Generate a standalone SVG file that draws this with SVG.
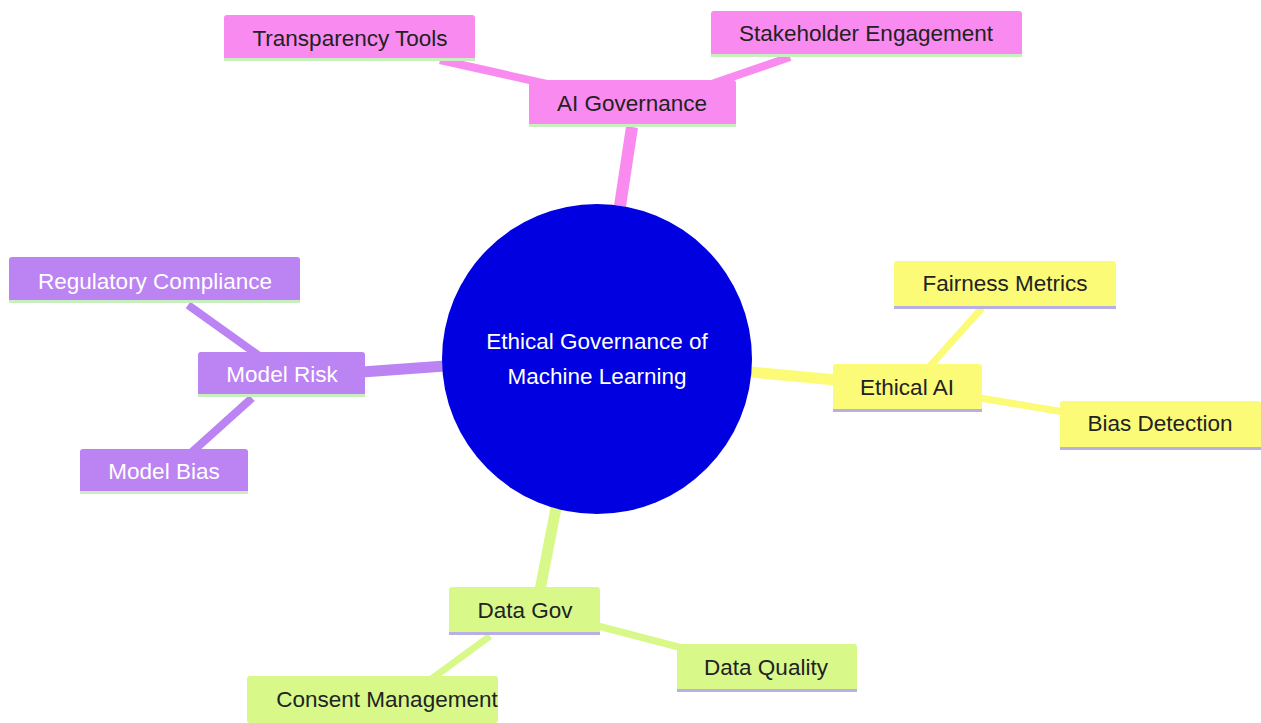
<svg xmlns="http://www.w3.org/2000/svg" width="1261" height="723" viewBox="0 0 1261 723">
<style>
text{font-family:"Liberation Sans",Arial,sans-serif;font-size:22.5px;text-anchor:middle;dominant-baseline:central}
.pk{fill:#f98bf0}.pu{fill:#bb84f2}.ye{fill:#fbfb78}.li{fill:#d8f98a}
.bg{fill:#c9efc0}.bp{fill:#b8b0e2}
.dk{fill:#222}.wt{fill:#fff}
.e{fill:none;stroke-linecap:butt}
.epk{stroke:#f98bf0}.epu{stroke:#bb84f2}.eye{stroke:#fbfb78}.eli{stroke:#d8f98a}
</style>
<rect width="1261" height="723" fill="#fff"/>
<g id="connectors">
<line class="e epk" x1="620" y1="206" x2="632" y2="127" stroke-width="12"/>
<line class="e epk" x1="440" y1="60" x2="565" y2="88" stroke-width="8"/>
<line class="e epk" x1="790" y1="57" x2="700" y2="88" stroke-width="8"/>
<line class="e epu" x1="445" y1="366" x2="362" y2="372" stroke-width="11"/>
<line class="e epu" x1="188" y1="305" x2="258" y2="355" stroke-width="8"/>
<line class="e epu" x1="252" y1="398" x2="192" y2="452" stroke-width="8"/>
<line class="e eye" x1="750" y1="372" x2="836" y2="380" stroke-width="11"/>
<line class="e eye" x1="930" y1="366" x2="982" y2="308" stroke-width="7"/>
<line class="e eye" x1="980" y1="398" x2="1064" y2="412" stroke-width="7"/>
<line class="e eli" x1="556" y1="508" x2="540" y2="590" stroke-width="11"/>
<line class="e eli" x1="598" y1="626" x2="690" y2="650" stroke-width="7"/>
<line class="e eli" x1="490" y1="636" x2="430" y2="680" stroke-width="7"/>
</g>
<g id="root">
<circle cx="597" cy="359" r="155" fill="#0000e0"/>
<text class="wt" x="597" y="341">Ethical Governance of</text>
<text class="wt" x="597" y="376">Machine Learning</text>
</g>
<g id="ai-governance">
<rect class="pk" x="529" y="80" width="207" height="46" rx="3"/>
<rect class="bg" x="529" y="124" width="207" height="3"/>
<text class="dk" x="632" y="103">AI Governance</text>
</g>
<g id="transparency-tools">
<rect class="pk" x="224" y="15" width="251" height="45" rx="3"/>
<rect class="bg" x="224" y="58" width="251" height="3"/>
<text class="dk" x="350" y="38">Transparency Tools</text>
</g>
<g id="stakeholder-engagement">
<rect class="pk" x="711" y="11" width="311" height="45" rx="3"/>
<rect class="bg" x="711" y="54" width="311" height="3"/>
<text class="dk" x="866" y="33">Stakeholder Engagement</text>
</g>
<g id="model-risk">
<rect class="pu" x="198" y="352" width="167" height="44" rx="3"/>
<rect class="bg" x="198" y="394" width="167" height="3"/>
<text class="wt" x="282" y="374">Model Risk</text>
</g>
<g id="regulatory-compliance">
<rect class="pu" x="9" y="257" width="291" height="45" rx="3"/>
<rect class="bg" x="9" y="300" width="291" height="3"/>
<text class="wt" x="155" y="281">Regulatory Compliance</text>
</g>
<g id="model-bias">
<rect class="pu" x="80" y="449" width="168" height="44" rx="3"/>
<rect class="bg" x="80" y="491" width="168" height="3"/>
<text class="wt" x="164" y="471">Model Bias</text>
</g>
<g id="ethical-ai">
<rect class="ye" x="833" y="364" width="149" height="47" rx="3"/>
<rect class="bp" x="833" y="409" width="149" height="3"/>
<text class="dk" x="907" y="387">Ethical AI</text>
</g>
<g id="fairness-metrics">
<rect class="ye" x="894" y="261" width="222" height="47" rx="3"/>
<rect class="bp" x="894" y="306" width="222" height="3"/>
<text class="dk" x="1005" y="283">Fairness Metrics</text>
</g>
<g id="bias-detection">
<rect class="ye" x="1060" y="401" width="201" height="48" rx="3"/>
<rect class="bp" x="1060" y="447" width="201" height="3"/>
<text class="dk" x="1160" y="423">Bias Detection</text>
</g>
<g id="data-gov">
<rect class="li" x="449" y="587" width="151" height="47" rx="3"/>
<rect class="bp" x="449" y="632" width="151" height="3"/>
<text class="dk" x="525" y="610">Data Gov</text>
</g>
<g id="data-quality">
<rect class="li" x="677" y="644" width="180" height="47" rx="3"/>
<rect class="bp" x="677" y="689" width="180" height="3"/>
<text class="dk" x="766" y="667">Data Quality</text>
</g>
<g id="consent-management">
<rect class="li" x="247" y="676" width="251" height="47" rx="3"/>
<text class="dk" x="387" y="699">Consent Management</text>
</g>
</svg>
